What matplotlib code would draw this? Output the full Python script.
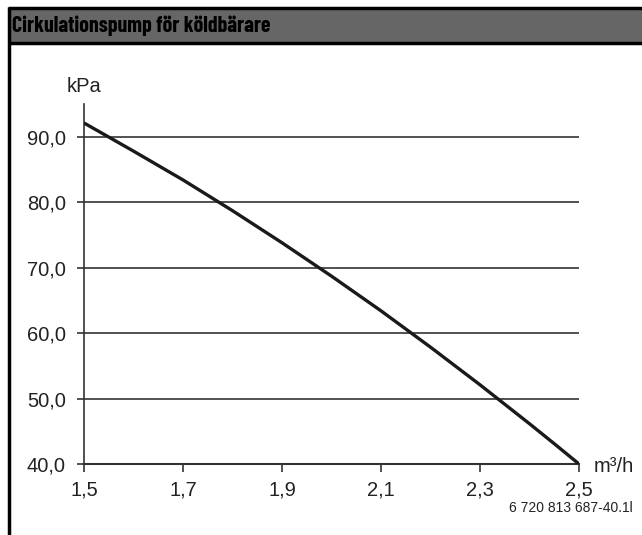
import matplotlib
matplotlib.use('Agg')
import matplotlib.pyplot as plt
from matplotlib.lines import Line2D
from matplotlib.patches import Rectangle

# data
flow = [1.5, 1.6, 1.7, 1.8, 1.9, 2.0, 2.1, 2.2, 2.3, 2.4, 2.45, 2.5]
pressure = [92.1, 87.8, 83.4, 78.7, 73.8, 68.7, 63.4, 57.85, 52.1, 46.15, 43.1, 40.0]
x_ticks = [1.5, 1.7, 1.9, 2.1, 2.3, 2.5]
x_labels = ['1,5', '1,7', '1,9', '2,1', '2,3', '2,5']
y_ticks = [40, 50, 60, 70, 80, 90]
y_labels = ['40,0', '50,0', '60,0', '70,0', '80,0', '90,0']

W, H = 642, 535
plt.rcParams['font.family'] = ['Liberation Sans', 'DejaVu Sans']
fig = plt.figure(figsize=(W / 100, H / 100), dpi=100)

# header bar + frame
fig.patches.append(Rectangle((8 / W, 1 - 43 / H), 1, 35 / H, transform=fig.transFigure,
                             facecolor='#666666', edgecolor='none', zorder=0))
fig.lines.append(Line2D([8 / W, 1], [1 - 7.5 / H, 1 - 7.5 / H], transform=fig.transFigure,
                        color='k', lw=2.5, solid_capstyle='butt'))
fig.lines.append(Line2D([8 / W, 1], [1 - 43 / H, 1 - 43 / H], transform=fig.transFigure,
                        color='k', lw=2.5, solid_capstyle='butt'))
fig.lines.append(Line2D([8.5 / W, 8.5 / W], [0, 1 - 6.5 / H], transform=fig.transFigure,
                        color='k', lw=2.5, solid_capstyle='butt'))
fig.text(12 / W, 1 - 26 / H, 'Cirkulationspump för köldbärare', fontsize=15.8, fontweight='bold',
         family=['Barlow Condensed', 'Liberation Sans'], va='center', ha='left', color='black')

ax = fig.add_axes([84 / W, 71 / H, 495 / W, 360 / H])
ax.plot(flow, pressure, color='#1a1a1a', lw=2.4, solid_capstyle='butt', zorder=3)
ax.set_xlim(1.5, 2.5)
ax.set_ylim(40, 95)
ax.set_xticks(x_ticks)
ax.set_xticklabels(x_labels)
ax.set_yticks(y_ticks)
ax.set_yticklabels(y_labels)
for y in y_ticks[1:]:
    ax.axhline(y, color='#333333', lw=1.2, zorder=1)
for s in ['top', 'right']:
    ax.spines[s].set_visible(False)
ax.spines['left'].set_color('#333333')
ax.spines['bottom'].set_color('#333333')
ax.spines['left'].set_linewidth(1.2)
ax.spines['bottom'].set_linewidth(1.5)
ax.tick_params(axis='both', colors='#333333', labelcolor='#222222', labelsize=14.5, width=1.2)
ax.tick_params(axis='x', length=6, pad=6)
ax.tick_params(axis='y', length=5, pad=8)

fig.text(84 / W, 1 - 86 / H, 'kPa', fontsize=14.5, ha='center', va='center', color='#222222')
fig.text(594 / W, 1 - 466 / H, 'm³/h', fontsize=14.5, ha='left', va='center', color='#222222')
fig.text(633 / W, 1 - 508 / H, '6 720 813 687-40.1l', fontsize=10, ha='right', va='center', color='#222222')

fig.savefig('out.png', dpi=100)
